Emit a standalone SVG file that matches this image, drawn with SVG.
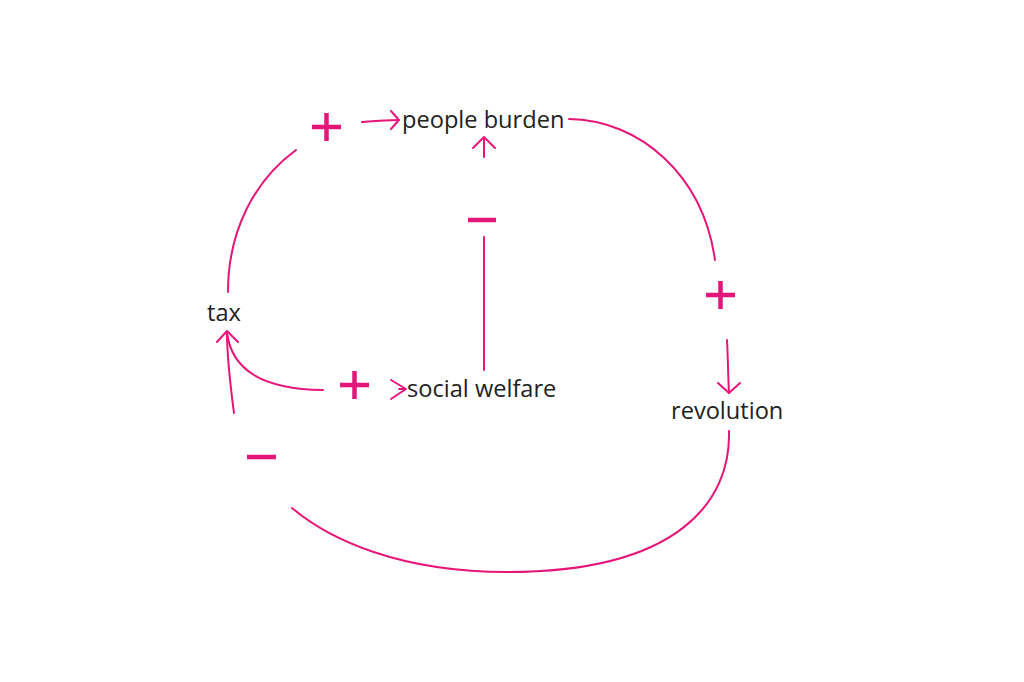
<svg xmlns="http://www.w3.org/2000/svg" width="1024" height="682" viewBox="0 0 1024 682">
<style>
.lbl{font-family:"Open Sans","Noto Sans",sans-serif;font-size:23.6px;fill:#222}
.ln{fill:none;stroke:#e5157a;stroke-width:2;stroke-linecap:round;stroke-linejoin:round}
.sg{fill:none;stroke:#e5157a;stroke-width:4.5}
</style>
<rect width="1024" height="682" fill="#fff"/>
<g id="connectors">
<path class="ln" d="M228,292 C228,230 255,180 296,150"/>
<path class="ln" d="M362,122 C375,121 387,120 398,120"/>
<path class="ln" d="M391,111 L399,120 L391,129"/>
<path class="ln" d="M569,119 C640,120 703,175 715,260"/>
<path class="ln" d="M727,340 C728,358 728,375 729,393"/>
<path class="ln" d="M718,383 L729,393 L740,383"/>
<path class="ln" d="M729,431 C731,500 680,572 507,572 C400,572 330,540 292,508"/>
<path class="ln" d="M234,413 C231,390 227,360 227,333"/>
<path class="ln" d="M323,390 C262,389 232,370 227,333"/>
<path class="ln" d="M217,342 L227,331 L238,342"/>
<path class="ln" d="M391,380 L406,389 L391,399 M399,389 H406"/>
<path class="ln" d="M484,370 L484,237"/>
<path class="ln" d="M484,157 L484,138"/>
<path class="ln" d="M473,148 L484,137 L495,148"/>
</g>
<g id="signs">
<path class="sg" d="M312,127 H341 M326.5,113 V141"/>
<path class="sg" d="M706,295 H735 M720.5,281 V309"/>
<path class="sg" d="M340,385 H369 M354.5,371 V399"/>
<path class="sg" d="M468,220 H496"/>
<path class="sg" d="M247,457 H276"/>
</g>
<g id="node-people-burden"><text class="lbl" x="402" y="128">people burden</text></g>
<g id="node-tax"><text class="lbl" x="207" y="321">tax</text></g>
<g id="node-social-welfare"><text class="lbl" x="407" y="397">social welfare</text></g>
<g id="node-revolution"><text class="lbl" x="671" y="419">revolution</text></g>
</svg>
